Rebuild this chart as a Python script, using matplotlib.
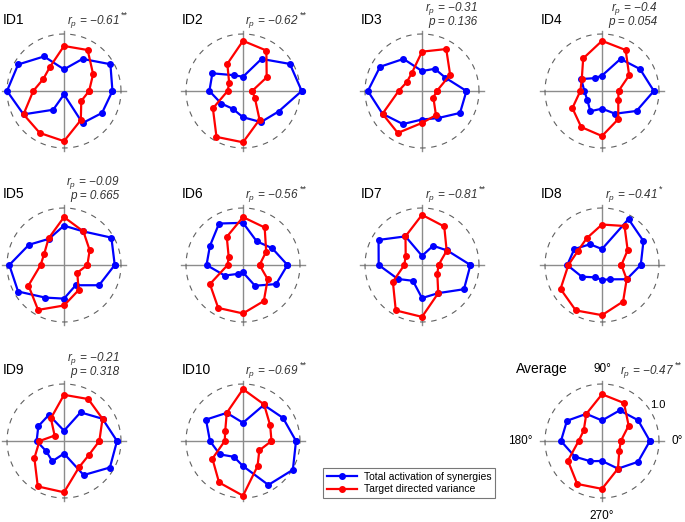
import numpy as np
import matplotlib
matplotlib.use('Agg')
import matplotlib.pyplot as plt
from matplotlib.lines import Line2D

plt.rcParams['font.family'] = ['Liberation Sans', 'DejaVu Sans']
plt.rcParams['mathtext.fontset'] = 'custom'
plt.rcParams['mathtext.rm'] = 'Liberation Sans'
plt.rcParams['mathtext.it'] = 'Liberation Sans:italic'

# directions (deg), 12 targets
angles = np.arange(0, 360, 30)

names = ['ID1', 'ID2', 'ID3', 'ID4', 'ID5', 'ID6', 'ID7', 'ID8', 'ID9', 'ID10', 'Average']

# total activation of synergies (normalised), one value per direction 0..330
syn = [
    [0.85, 0.94, 0.65, 0.38, 0.70, 0.93, 1.00, 0.82, 0.38, 0.06, 0.65, 0.77],  # ID1
    [1.03, 0.95, 0.65, 0.25, 0.32, 0.62, 0.59, 0.44, 0.36, 0.46, 0.63, 0.72],  # ID2
    [0.78, 0.47, 0.45, 0.35, 0.65, 0.85, 0.95, 0.80, 0.67, 0.50, 0.55, 0.77],  # ID3
    [0.91, 0.77, 0.65, 0.27, 0.26, 0.42, 0.31, 0.30, 0.41, 0.31, 0.46, 0.70],  # ID4
    [0.89, 0.96, 0.68, 0.69, 0.53, 0.71, 0.96, 0.93, 0.66, 0.59, 0.41, 0.71],  # ID5
    [0.78, 0.59, 0.48, 0.74, 0.84, 0.67, 0.64, 0.37, 0.18, 0.13, 0.42, 0.67],  # ID6
    [0.85, 0.51, 0.39, 0.16, 0.58, 0.88, 0.76, 0.49, 0.32, 0.58, 0.57, 0.85],  # ID7
    [0.68, 0.84, 0.93, 0.28, 0.42, 0.56, 0.61, 0.41, 0.25, 0.26, 0.29, 0.50],  # ID8
    [0.93, 0.78, 0.58, 0.18, 0.53, 0.52, 0.48, 0.36, 0.41, 0.22, 0.69, 0.93],  # ID9
    [0.93, 0.81, 0.73, 0.32, 0.57, 0.75, 0.58, 0.47, 0.32, 0.44, 0.89, 1.01],  # ID10
    [0.84, 0.73, 0.62, 0.36, 0.55, 0.71, 0.72, 0.55, 0.41, 0.35, 0.56, 0.73],  # Average
]

# target directed variance (normalised)
tdv = [
    [0.44, 0.59, 0.83, 0.79, 0.49, 0.42, 0.54, 0.82, 0.85, 0.88, 0.59, 0.35],  # ID1
    [0.16, 0.48, 0.82, 0.88, 0.55, 0.28, 0.27, 0.61, 0.93, 0.90, 0.58, 0.24],  # ID2
    [0.26, 0.57, 0.85, 0.69, 0.36, 0.31, 0.41, 0.80, 0.85, 0.56, 0.49, 0.23],  # ID3
    [0.29, 0.55, 0.83, 0.88, 0.66, 0.41, 0.38, 0.60, 0.73, 0.79, 0.57, 0.33],  # ID4
    [0.41, 0.52, 0.68, 0.84, 0.54, 0.40, 0.41, 0.72, 0.91, 0.71, 0.51, 0.27],  # ID5
    [0.29, 0.47, 0.76, 0.84, 0.57, 0.29, 0.27, 0.67, 0.87, 0.85, 0.73, 0.50],  # ID6
    [0.29, 0.50, 0.78, 0.88, 0.58, 0.33, 0.31, 0.59, 0.92, 0.91, 0.57, 0.31],  # ID7
    [0.34, 0.52, 0.79, 0.71, 0.54, 0.49, 0.59, 0.84, 0.92, 0.88, 0.74, 0.50],  # ID8
    [0.62, 0.78, 0.85, 0.81, 0.46, 0.19, 0.43, 0.60, 0.92, 0.90, 0.53, 0.50],  # ID9
    [0.50, 0.55, 0.74, 0.91, 0.57, 0.36, 0.32, 0.62, 0.84, 0.96, 0.51, 0.33],  # ID10
    [0.33, 0.54, 0.77, 0.82, 0.55, 0.37, 0.41, 0.69, 0.87, 0.84, 0.56, 0.35],  # Average
]

r_vals = ['\u22120.61', '\u22120.62', '\u22120.31', '\u22120.4', '\u22120.09', '\u22120.56',
          '\u22120.81', '\u22120.41', '\u22120.21', '\u22120.69', '\u22120.47']
p_vals = [None, None, '0.136', '0.054', '0.665', None, None, None, '0.318', None, None]
stars = ['**', '**', '', '', '', '**', '**', '*', '', '**', '**']

# panel centres in pixels (x from left, y from top)
centers = [(64, 91), (243, 91), (422, 91), (602, 91),
           (64, 265), (243, 265), (422, 265), (602, 265),
           (64, 441), (243, 441), (602, 441)]

W, H = 685, 522
R = 57.0   # pixels for radius 1.0
L = 1.5    # half-width of each axes in data units

fig = plt.figure(figsize=(W / 100, H / 100), dpi=100)

th = np.deg2rad(np.append(angles, angles[0]))
circ = np.linspace(0, 2 * np.pi, 200)

for i, name in enumerate(names):
    cx, cy = centers[i]
    ax = fig.add_axes([(cx - L * R) / W, 1 - (cy + L * R) / H, 2 * L * R / W, 2 * L * R / H])
    ax.set_xlim(-L, L)
    ax.set_ylim(-L, L)
    ax.set_aspect('equal')
    ax.axis('off')

    # axes cross and unit circle
    ax.plot([-1.09, 1.09], [0, 0], color='#8c8c8c', lw=1.0, zorder=1)
    ax.plot([0, 0], [-1.05, 1.05], color='#8c8c8c', lw=1.0, zorder=1)
    ax.plot(np.cos(circ), np.sin(circ), color='#606060', lw=0.8, ls=(0, (5, 5)), zorder=1)

    s = np.append(syn[i], syn[i][0])
    t = np.append(tdv[i], tdv[i][0])
    ax.plot(s * np.cos(th), s * np.sin(th), color='#0000ff', lw=1.6, marker='o', ms=4, zorder=3)
    ax.plot(t * np.cos(th), t * np.sin(th), color='#ff0000', lw=1.6, marker='o', ms=4, zorder=4)

    # labels
    if name == 'Average':
        ax.text(-0.6, 1.19, name, ha='right', va='baseline', fontsize=10)
        xr = 1.27
        ax.text(0, 1.21, '90\u00b0', ha='center', va='baseline', fontsize=8.5)
        ax.text(0, -1.21, '270\u00b0', ha='center', va='top', fontsize=8.5)
        ax.text(-1.21, 0, '180\u00b0', ha='right', va='center', fontsize=8.5)
        ax.text(1.22, 0, '0\u00b0', ha='left', va='center', fontsize=8.5)
        ax.text(0.84, 0.64, '1.0', ha='left', va='center', fontsize=8)
    else:
        ax.text(-1.08, 1.17, name, ha='left', va='baseline', fontsize=10)
        xr = 0.98
    yr = 1.40 if p_vals[i] else 1.18
    ax.text(xr, yr, r'$r_p$ = ' + r_vals[i], ha='right', va='baseline',
            fontsize=8.5, style='italic', color='#333333')
    if stars[i]:
        ax.text(xr + 0.01, yr + 0.10, stars[i], ha='left', va='baseline',
                fontsize=6.5, color='#333333')
    if p_vals[i]:
        ax.text(xr, 1.16, 'p = ' + p_vals[i], ha='right', va='baseline',
                fontsize=8.5, style='italic', color='#333333')

handles = [Line2D([], [], color='#0000ff', lw=1.6, marker='o', ms=4),
           Line2D([], [], color='#ff0000', lw=1.6, marker='o', ms=4)]
leg = fig.legend(handles, ['Total activation of synergies', 'Target directed variance'],
                 loc='upper left', bbox_to_anchor=(323 / W, 1 - 468 / H), borderaxespad=0,
                 fontsize=7.5, frameon=True, fancybox=False, handlelength=2.9,
                 handletextpad=0.7, labelspacing=0.25, borderpad=0.35)
leg.get_frame().set_edgecolor('#555555')
leg.get_frame().set_linewidth(0.8)

fig.savefig('out.png', dpi=100)
